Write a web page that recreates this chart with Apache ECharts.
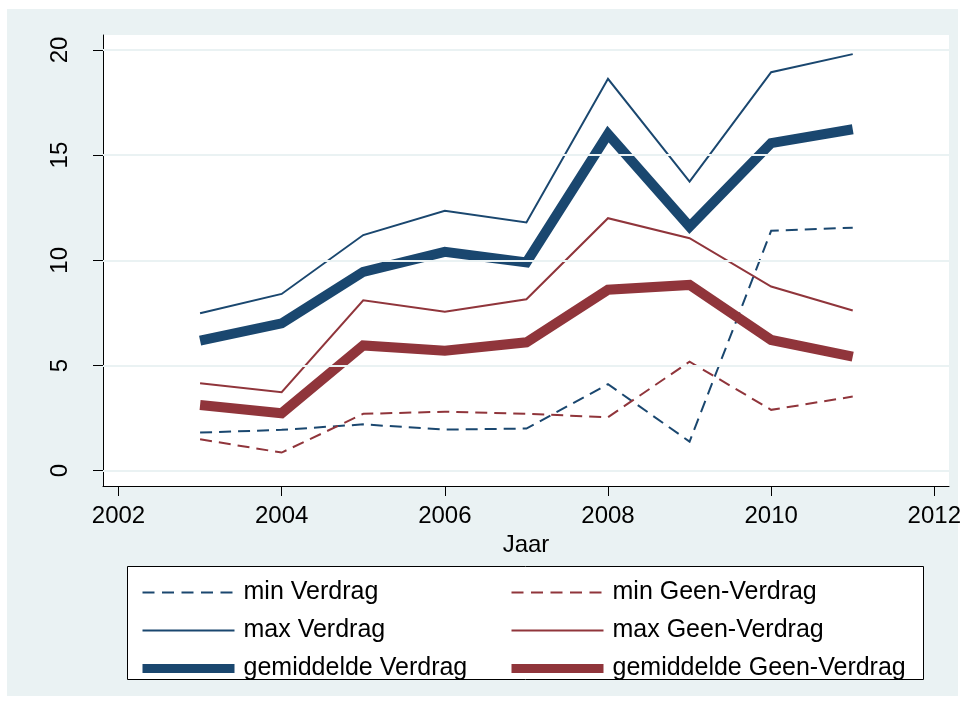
<!DOCTYPE html>
<html>
<head>
<meta charset="utf-8">
<title>Verdrag</title>
<style>
  html, body { margin: 0; padding: 0; background: #fff; }
  #graph { width: 965px; height: 703px; }
</style>
</head>
<body>
<div id="graph"></div>
<script src="https://cdn.jsdelivr.net/npm/echarts@6/dist/echarts.min.js"></script>
<script>
// data
const years = [2003, 2004, 2005, 2006, 2007, 2008, 2009, 2010, 2011];
const minVerdrag = [1.81, 1.94, 2.2, 1.95, 2.0, 4.11, 1.38, 11.4, 11.55];
const maxVerdrag = [7.48, 8.4, 11.2, 12.35, 11.8, 18.63, 13.74, 18.94, 19.8];
const gemVerdrag = [6.18, 7.0, 9.45, 10.4, 9.9, 16.0, 11.6, 15.57, 16.23];
const minGeen = [1.49, 0.86, 2.7, 2.8, 2.7, 2.54, 5.18, 2.89, 3.52];
const maxGeen = [4.16, 3.73, 8.1, 7.55, 8.15, 12.0, 11.05, 8.75, 7.61];
const gemGeen = [3.12, 2.73, 5.95, 5.7, 6.1, 8.6, 8.83, 6.21, 5.42];

const xTicks = [2002, 2004, 2006, 2008, 2010, 2012];
const yTicks = [0, 5, 10, 15, 20];

const blue = '#1a476f', red = '#90353b';
const font = '"Liberation Sans", Arial, sans-serif';
const dash = [12, 7];
const legendDash = [12, 7.5];

function pairs(ys) {
  return years.map((x, i) => [x, ys[i]]);
}

function line(name, ys, color, width, type) {
  return {
    name: name,
    type: 'line',
    data: pairs(ys),
    symbol: 'none',
    z: 3,
    lineStyle: { color: color, width: width, type: type || 'solid', cap: 'butt', join: 'miter' },
    itemStyle: { color: color }
  };
}

// legend entry: just the line, no marker
function legendItem(name, color, width, type) {
  return {
    name: name,
    itemStyle: { color: 'rgba(0,0,0,0)', borderWidth: 0, opacity: 0 },
    lineStyle: { color: color, width: width, type: type || 'solid', cap: 'butt' }
  };
}

function legendBox(left, items) {
  return {
    orient: 'vertical',
    left: left, top: 580,
    itemWidth: 92, itemHeight: 20, itemGap: 13,
    padding: 0,
    z: 10,
    selectedMode: false,
    textStyle: { fontFamily: font, fontSize: 25, color: '#000', padding: [0, 0, 0, 4] },
    data: items
  };
}

let chart = echarts.init(document.getElementById('graph'));

chart.setOption({
  animation: false,
  backgroundColor: '#fff',
  graphic: [
    { type: 'rect', z: -10, shape: { x: 7, y: 9, width: 951, height: 687 }, style: { fill: '#eaf2f3' } },
    { type: 'rect', z: -9, shape: { x: 103, y: 35, width: 846, height: 451 }, style: { fill: '#fff' } },
    { type: 'rect', z: -9, shape: { x: 127.5, y: 566.5, width: 796, height: 113 }, style: { fill: '#fff', stroke: '#000', lineWidth: 1 } }
  ],
  grid: { left: 103, right: 16, top: 35, bottom: 217 },
  xAxis: {
    type: 'value',
    min: 2001.81,
    max: 2012.18,
    name: 'Jaar',
    nameLocation: 'middle',
    nameGap: 42,
    nameTextStyle: { fontFamily: font, fontSize: 24, color: '#000' },
    axisLine: { show: true, onZero: false, lineStyle: { color: '#000', width: 1 } },
    axisTick: { show: true, length: 10, customValues: xTicks, lineStyle: { color: '#000' } },
    axisLabel: { customValues: xTicks, formatter: v => String(v), margin: 18, fontFamily: font, fontSize: 24, color: '#000' },
    splitLine: { show: false }
  },
  yAxis: {
    type: 'value',
    min: -0.73,
    max: 20.71,
    axisLine: { show: true, onZero: false, lineStyle: { color: '#000', width: 1 } },
    axisTick: { show: true, length: 10, customValues: yTicks, lineStyle: { color: '#000' } },
    axisLabel: { customValues: yTicks, rotate: 90, margin: 31, fontFamily: font, fontSize: 24, color: '#000' },
    splitLine: { show: false }
  },
  legend: [
    legendBox(138, [
      legendItem('min Verdrag', blue, 2, legendDash),
      legendItem('max Verdrag', blue, 2),
      legendItem('gemiddelde Verdrag', blue, 9)
    ]),
    legendBox(507, [
      legendItem('min Geen-Verdrag', red, 2, legendDash),
      legendItem('max Geen-Verdrag', red, 2),
      legendItem('gemiddelde Geen-Verdrag', red, 9)
    ])
  ],
  series: [
    {
      name: 'grid',
      type: 'line',
      data: [],
      z: 1,
      markLine: {
        silent: true,
        symbol: ['none', 'none'],
        label: { show: false },
        lineStyle: { color: '#eaf2f3', width: 2, type: 'solid' },
        data: yTicks.map(v => ({ yAxis: v }))
      }
    },
    line('min Verdrag', minVerdrag, blue, 2, dash),
    line('min Geen-Verdrag', minGeen, red, 2, dash),
    line('max Verdrag', maxVerdrag, blue, 2),
    line('max Geen-Verdrag', maxGeen, red, 2),
    line('gemiddelde Verdrag', gemVerdrag, blue, 10),
    line('gemiddelde Geen-Verdrag', gemGeen, red, 10)
  ]
});
</script>
</body>
</html>
